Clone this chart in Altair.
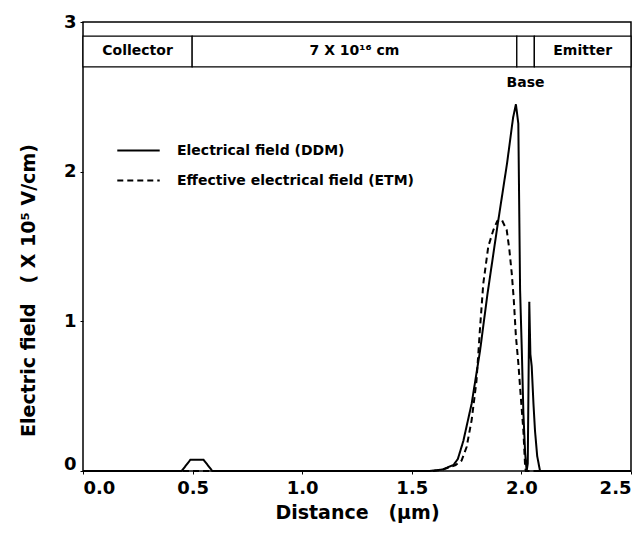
import altair as alt
import pandas as pd

# Electric field profile along the device (distance in um, field in 1e5 V/cm)
ddm_distance = [0.0, 0.45, 0.49, 0.55, 0.59, 1.58, 1.64, 1.69, 1.71, 1.735, 1.773,
                1.811, 1.845, 1.892, 1.935, 1.962, 1.975, 1.986, 1.994, 2.002, 2.009,
                2.017, 2.024, 2.029, 2.036, 2.041, 2.047, 2.055, 2.062, 2.072, 2.085, 2.5]
ddm_field = [0.0, 0.0, 0.075, 0.075, 0.0, 0.0, 0.01, 0.04, 0.08, 0.2, 0.45,
             0.8, 1.18, 1.65, 2.06, 2.36, 2.45, 2.32, 1.21, 0.8, 0.39,
             0.12, 0.0, 0.05, 1.13, 0.78, 0.70, 0.45, 0.27, 0.1, 0.0, 0.0]

etm_distance = [0.0, 1.60, 1.643, 1.70, 1.727, 1.75, 1.773, 1.795, 1.811, 1.826,
                1.849, 1.872, 1.89, 1.91, 1.933, 1.945, 1.956, 1.965, 1.975, 1.986,
                1.997, 2.009, 2.017, 2.02, 2.5]
etm_field = [0.0, 0.0, 0.01, 0.04, 0.07, 0.16, 0.34, 0.6, 0.95, 1.25,
             1.5, 1.61, 1.67, 1.68, 1.61, 1.48, 1.32, 1.15, 0.9, 0.72,
             0.5, 0.27, 0.03, 0.0, 0.0]

ddm_name = "Electrical field (DDM)"
etm_name = "Effective electrical field (ETM)"

# Device regions drawn as a strip across the top of the plot
region_labels = ["Collector", "7 X 10¹⁶ cm", "", "Emitter"]
region_start = [0.0, 0.498, 1.979, 2.059]
region_end = [0.498, 1.979, 2.059, 2.5]
strip_bottom = 2.70
strip_top = 2.906
base_label = "Base"
base_label_y = 2.59

x_ticks = [0.0, 0.5, 1.0, 1.5, 2.0, 2.5]
y_ticks = [0, 1, 2, 3]

FONT = "DejaVu Sans"
NBSP = "\u00a0"

curves = pd.concat([
    pd.DataFrame({"distance": ddm_distance, "field": ddm_field,
                  "series": ddm_name, "idx": range(len(ddm_distance))}),
    pd.DataFrame({"distance": etm_distance, "field": etm_field,
                  "series": etm_name, "idx": range(len(etm_distance))}),
])

regions = pd.DataFrame({
    "start": region_start, "end": region_end, "label": region_labels,
    "bottom": strip_bottom, "top": strip_top,
})
regions["mid"] = (regions["start"] + regions["end"]) / 2
regions["label_y"] = (strip_bottom + strip_top) / 2

base = regions.iloc[[2]].copy()
base["label"] = base_label
base["label_y"] = base_label_y

x_scale = alt.Scale(domain=[0, 2.5], nice=False, zero=False)
y_scale = alt.Scale(domain=[0, 3], nice=False)

x_title = "Distance" + NBSP * 3 + "(µm)"
y_title = "Electric field" + NBSP * 3 + "(" + NBSP + "X 10⁵ V/cm)"

lines = alt.Chart(curves).mark_line(color="black", strokeWidth=2).encode(
    x=alt.X("distance:Q", scale=x_scale,
            axis=alt.Axis(title=x_title, values=x_ticks, format=".1f",
                          labelFontSize=18, labelFont=FONT, labelFontWeight="bold",
                          labelPadding=5, titleFontSize=19, titleFont=FONT,
                          titleFontWeight="bold", titlePadding=6, grid=False,
                          tickSize=3, domain=False, labelColor="black",
                          titleColor="black", tickColor="black")),
    y=alt.Y("field:Q", scale=y_scale,
            axis=alt.Axis(title=y_title, values=y_ticks,
                          format="d", labelFontSize=18, labelFont=FONT,
                          labelFontWeight="bold", labelPadding=4,
                          labelOffset={"condition": {"test": "datum.value === 0", "value": -7}, "value": 0},
                          titleFontSize=19, titleFont=FONT, titleFontWeight="bold",
                          titleX=-55, titleY=268, titleAngle=-90,
                          titleAlign="center", titleBaseline="middle",
                          grid=False, tickSize=3, domain=False,
                          labelColor="black", titleColor="black", tickColor="black")),
    strokeDash=alt.StrokeDash(
        "series:N",
        scale=alt.Scale(domain=[ddm_name, etm_name], range=[[1, 0], [6, 4]]),
        legend=alt.Legend(title=None, orient="none", legendX=33, legendY=106,
                          symbolType="stroke", symbolSize=1800,
                          symbolStrokeWidth=2, symbolStrokeColor="black",
                          labelFont=FONT, labelFontSize=14, labelFontWeight="bold",
                          labelColor="black", labelOffset=16, labelLimit=0,
                          rowPadding=-1),
    ),
    detail="series:N",
    order="idx:Q",
)

strip = alt.Chart(regions).mark_rect(fill="white", stroke="black", strokeWidth=1.3).encode(
    x="start:Q", x2="end:Q", y="bottom:Q", y2="top:Q",
)

strip_text = alt.Chart(regions).mark_text(
    font=FONT, fontSize=14, fontWeight="bold", color="black"
).encode(x="mid:Q", y="label_y:Q", text="label:N")

base_text = alt.Chart(base).mark_text(
    font=FONT, fontSize=14, fontWeight="bold", color="black"
).encode(x="mid:Q", y="label_y:Q", text="label:N")

chart = alt.layer(lines, strip, strip_text, base_text).properties(
    width=548, height=449,
    padding={"left": 83, "top": 22, "right": 13, "bottom": 62},
    autosize=alt.AutoSizeParams(type="none"),
    background="white",
).configure_view(stroke="black", strokeWidth=1.5)

chart.save("out.html", embed_options={"renderer": "svg", "actions": False})
